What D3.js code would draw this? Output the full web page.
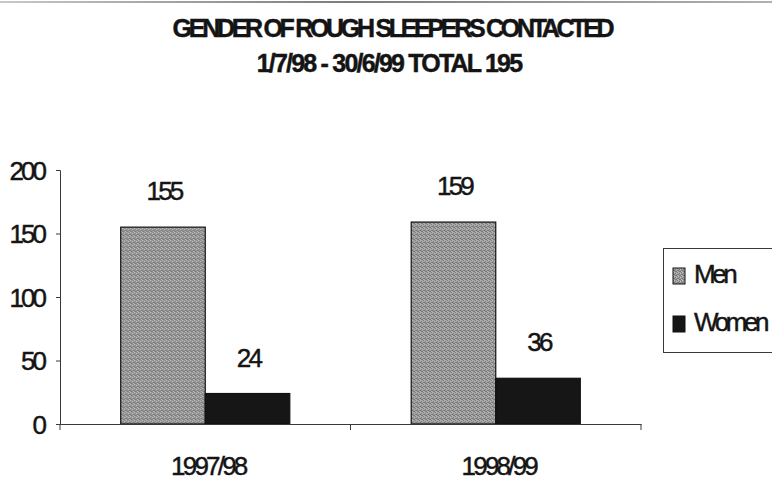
<!DOCTYPE html>
<html>
<head>
<meta charset="utf-8">
<script src="https://cdn.jsdelivr.net/npm/d3@7"></script>
<style>
  body { margin: 0; background: #fff; }
  svg { display: block; }
  text { font-family: "Liberation Sans", Arial, sans-serif; fill: #141414; stroke: #141414; stroke-width: 0.45px; }
</style>
</head>
<body>
<svg id="chart" width="772" height="480"></svg>
<script>
// Rough sleepers contacted, by gender and year
const categories = ["1997/98", "1998/99"];
const seriesNames = ["Men", "Women"];
const menValues = [155, 159];
const womenValues = [24, 36];
const yTickValues = [0, 50, 100, 150, 200];
const titleLines = ["GENDER OF ROUGH SLEEPERS CONTACTED", "1/7/98 - 30/6/99 TOTAL 195"];

const seriesValues = { Men: menValues, Women: womenValues };
const rows = categories.map((c, i) => ({
  category: c,
  values: seriesNames.map(s => ({ series: s, value: seriesValues[s][i] }))
}));

const svg = d3.select("#chart");
const W = 772, H = 480;
const plot = { left: 60, right: 641, top: 170, bottom: 424 };

// Dithered grey fill for the "Men" bars
const defs = svg.append("defs");
const pat = defs.append("pattern")
  .attr("id", "dither").attr("patternUnits", "userSpaceOnUse")
  .attr("width", 4).attr("height", 4);
pat.append("rect").attr("width", 4).attr("height", 4).attr("fill", "#a0a0a0");
[[0,0],[2,1],[1,2],[3,3],[2,3],[0,2]].forEach(([px, py]) =>
  pat.append("rect").attr("x", px).attr("y", py).attr("width", 1).attr("height", 1).attr("fill", "#777"));
[[1,0],[3,1],[0,3]].forEach(([px, py]) =>
  pat.append("rect").attr("x", px).attr("y", py).attr("width", 1).attr("height", 1).attr("fill", "#c2c2c2"));

const color = d3.scaleOrdinal().domain(seriesNames).range(["url(#dither)", "#161616"]);

// Faint rule along the top edge of the page
const topGrad = defs.append("linearGradient").attr("id", "topRule");
topGrad.append("stop").attr("offset", "0%").attr("stop-color", "#c8c8c8");
topGrad.append("stop").attr("offset", "45%").attr("stop-color", "#7c7c7c");
topGrad.append("stop").attr("offset", "100%").attr("stop-color", "#b0b0b0");
svg.append("rect").attr("x", 0).attr("y", 1).attr("width", W).attr("height", 2).attr("fill", "url(#topRule)");

// Title
svg.append("g").selectAll("text").data(titleLines).join("text")
  .attr("x", (d, i) => i === 0 ? 392 : 389)
  .attr("y", (d, i) => i === 0 ? 37 : 72)
  .attr("text-anchor", "middle")
  .style("font-size", "25px")
  .style("font-weight", "bold")
  .style("letter-spacing", (d, i) => i === 0 ? "-3.3px" : "-1.8px")
  .text(d => d);

// Scales
const y = d3.scaleLinear().domain([0, 200]).range([plot.bottom, plot.top]);
const x0 = d3.scaleBand().domain(categories).range([plot.left, plot.right])
  .paddingInner(0.418).paddingOuter(0.209);
const x1 = d3.scaleBand().domain(seriesNames).range([0, x0.bandwidth()]);

// Y axis
const yAxis = svg.append("g").attr("transform", `translate(${plot.left},0)`)
  .call(d3.axisLeft(y).tickValues(yTickValues).tickSize(4).tickPadding(12).tickFormat(d3.format("d")));
yAxis.select(".domain").attr("stroke", "#3a3a3a");
yAxis.selectAll(".tick line").attr("stroke", "#3a3a3a");
yAxis.selectAll(".tick text")
  .attr("fill", "#141414")
  .style("font-size", "26px")
  .style("letter-spacing", "-3px")
  .attr("dy", "0.36em");

// Bars
const groups = svg.append("g").selectAll("g").data(rows).join("g")
  .attr("transform", d => `translate(${x0(d.category)},0)`);

groups.selectAll("rect").data(d => d.values).join("rect")
  .attr("x", d => x1(d.series))
  .attr("y", d => y(d.value))
  .attr("width", x1.bandwidth())
  .attr("height", d => y(0) - y(d.value))
  .attr("fill", d => color(d.series))
  .attr("stroke", "#111")
  .attr("stroke-width", 1.2);

// Value labels
groups.selectAll("text").data(d => d.values).join("text")
  .attr("x", d => x1(d.series) + x1.bandwidth() / 2 + 1)
  .attr("y", d => y(d.value) - 27)
  .attr("text-anchor", "middle")
  .style("font-size", "26px")
  .style("letter-spacing", "-2.8px")
  .text(d => d.value);

// X axis: baseline, boundary ticks, category labels
const xAxis = svg.append("g").attr("transform", `translate(0,${plot.bottom})`)
  .call(d3.axisBottom(x0).tickSize(0).tickPadding(33));
xAxis.select(".domain").attr("stroke", "#3a3a3a");
xAxis.selectAll(".tick text")
  .attr("fill", "#141414")
  .attr("dx", 3)
  .style("font-size", "26px")
  .style("letter-spacing", "-2.8px");
const bounds = d3.range(categories.length + 1).map(i => plot.left + i * x0.step());
xAxis.selectAll("line.bound").data(bounds).join("line")
  .attr("class", "bound")
  .attr("x1", d => d).attr("x2", d => d)
  .attr("y1", 0).attr("y2", 6)
  .attr("stroke", "#3a3a3a");

// Legend
const legend = svg.append("g");
legend.append("rect")
  .attr("x", 663.5).attr("y", 248.5).attr("width", 130).attr("height", 104)
  .attr("fill", "#fff").attr("stroke", "#3a3a3a");
const items = legend.selectAll("g").data(seriesNames).join("g")
  .attr("transform", (d, i) => `translate(673,${268 + i * 48})`);
items.append("rect")
  .attr("width", 12).attr("height", 16)
  .attr("fill", d => color(d)).attr("stroke", "#111");
items.append("text")
  .attr("x", 21).attr("y", 15)
  .style("font-size", "26px")
  .style("letter-spacing", "-3.4px")
  .text(d => d);
</script>
</body>
</html>
